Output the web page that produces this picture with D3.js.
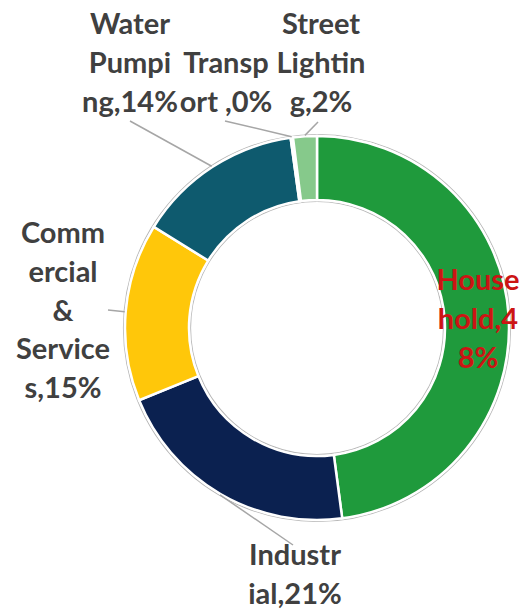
<!DOCTYPE html>
<html><head><meta charset="utf-8">
<script src="https://cdn.jsdelivr.net/npm/d3@7"></script>
<style>html,body{margin:0;padding:0;background:#fff;}svg{display:block;}</style>
</head><body>
<script>
const categories = ["Household", "Industrial", "Commercial & Services", "Water Pumping", "Transport ", "Street Lighting"];
const values = [48, 21, 15, 14, 0.2, 2];
const colors = ["#1F9A3C", "#0B2150", "#FFC70A", "#0E5A6E", "#A0A0A0", "#86C98B"];
const labelLines = [
  ["House", "hold,4", "8%"],
  ["Industr", "ial,21%"],
  ["Comm", "ercial", "&", "Service", "s,15%"],
  ["Water", "Pumpi", "ng,14%"],
  ["Transp", "ort ,0%"],
  ["Street", "Lightin", "g,2%"]
];

const W = 522, H = 609;
const cx = 317, cy = 328, rOuter = 192, rInner = 128;
const svg = d3.select("body").append("svg").attr("width", W).attr("height", H);
const g = svg.append("g").attr("transform", `translate(${cx},${cy})`);

const pie = d3.pie().sort(null).value(d => d);
const arcs = pie(values);
const arc = d3.arc().innerRadius(rInner).outerRadius(rOuter);

// outline rings
g.append("circle").attr("r", rOuter + 1.5).attr("fill", "none").attr("stroke", "#B8B8B8").attr("stroke-width", 1.2);
g.append("circle").attr("r", rInner - 1.5).attr("fill", "none").attr("stroke", "#B8B8B8").attr("stroke-width", 1.2);

g.selectAll("path.slice").data(arcs).enter().append("path")
  .attr("class", "slice")
  .attr("d", arc)
  .attr("fill", (d, i) => colors[i])
  .attr("stroke", "#fff").attr("stroke-width", 2.5).attr("stroke-linejoin", "miter");

// label layout (positions only)
const layout = [
  {x: 478, y: 290, lead: null, color: "#CC1414"},
  {x: 295, y: 565, lead: [293, 545], color: "#404040"},
  {x: 63, y: 243, lead: [108, 310], color: "#404040"},
  {x: 130, y: 34, lead: [130, 121], color: "#404040"},
  {x: 226, y: 73, lead: [225, 121], color: "#404040"},
  {x: 321, y: 34, lead: [318, 122], color: "#404040"}
];
const lineH = 38.8;

arcs.forEach((d, i) => {
  const L = layout[i];
  if (L.lead) {
    const mid = (d.startAngle + d.endAngle) / 2;
    const px = cx + (rOuter + 1) * Math.sin(mid);
    const py = cy - (rOuter + 1) * Math.cos(mid);
    svg.append("line")
      .attr("x1", L.lead[0]).attr("y1", L.lead[1])
      .attr("x2", px).attr("y2", py)
      .attr("stroke", "#A6A6A6").attr("stroke-width", 1.5);
  }
  const t = svg.append("text")
    .attr("text-anchor", "middle")
    .attr("font-family", "Lato, 'Open Sans', sans-serif")
    .attr("font-weight", 700)
    .attr("font-size", 29)
    .attr("fill", L.color);
  labelLines[i].forEach((s, j) => {
    t.append("tspan").attr("x", L.x).attr("y", L.y + j * lineH).text(s);
  });
});
</script>
</body></html>
